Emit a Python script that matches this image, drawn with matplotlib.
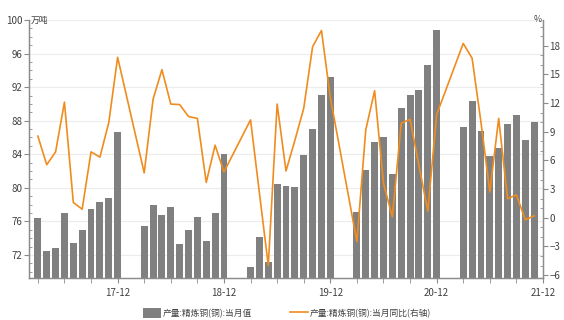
import matplotlib
matplotlib.use("Agg")
import matplotlib.pyplot as plt
from matplotlib.patches import Patch
from matplotlib.lines import Line2D
from matplotlib.ticker import MultipleLocator, FixedLocator

plt.rcParams['font.family'] = ['Noto Sans CJK SC', 'DejaVu Sans']

# 月份（每年1、2月无数据）
months = ['17-03', '17-04', '17-05', '17-06', '17-07', '17-08', '17-09', '17-10', '17-11', '17-12',
          '18-03', '18-04', '18-05', '18-06', '18-07', '18-08', '18-09', '18-10', '18-11', '18-12',
          '19-03', '19-04', '19-05', '19-06', '19-07', '19-08', '19-09', '19-10', '19-11', '19-12',
          '20-03', '20-04', '20-05', '20-06', '20-07', '20-08', '20-09', '20-10', '20-11', '20-12',
          '21-03', '21-04', '21-05', '21-06', '21-07', '21-08', '21-09', '21-10', '21-11']

# 产量:精炼铜(铜):当月值（万吨）
output = [76.4, 72.45, 72.8, 77.0, 73.4, 75.0, 77.5, 78.3, 78.75, 86.7,
          75.4, 77.9, 76.75, 77.75, 73.3, 75.0, 76.5, 73.7, 77.0, 84.0,
          70.6, 74.1, 71.2, 80.5, 80.2, 80.1, 83.9, 87.0, 91.1, 93.2,
          77.15, 82.1, 85.5, 86.1, 81.6, 89.55, 91.1, 91.6, 94.6, 98.8,
          87.2, 90.3, 86.8, 83.8, 84.7, 87.6, 88.7, 85.7, 87.85]

# 产量:精炼铜(铜):当月同比（%）
yoy = [8.55, 5.55, 6.9, 12.1, 1.6, 0.9, 6.9, 6.35, 9.95, 16.8,
       4.7, 12.4, 15.5, 11.9, 11.85, 10.6, 10.4, 3.7, 7.6, 4.8,
       10.25, 2.6, -5.0, 11.9, 4.9, 8.1, 11.45, 17.9, 19.6, 12.6,
       -2.5, 9.2, 13.3, 3.6, 0.1, 9.9, 10.3, 5.5, 0.7, 10.8,
       18.25, 16.7, 10.0, 2.7, 10.4, 2.0, 2.4, -0.2, 0.2]

all_months = [f'{y:02d}-{m:02d}' for y in range(17, 22) for m in range(1, 13)]
all_months = all_months[all_months.index('17-02'):]
x = [all_months.index(m) for m in months]

bar_color = '#808080'
line_color = '#F08C1E'
spine_color = '#8c8c8c'
text_color = '#404040'

fig = plt.figure(figsize=(5.64, 3.2), dpi=100)
ax = fig.add_axes([29 / 564, 1 - 278 / 320, (543 - 29) / 564, (278 - 20) / 320])
ax2 = ax.twinx()

ax.bar(x, output, width=0.78, color=bar_color, zorder=2)
ax2.plot(x, yoy, color=line_color, lw=1.2, zorder=3)

ax.set_xlim(0, len(all_months) - 1)
ax.set_ylim(69.25, 100)
ax2.set_ylim(-6.3, 20.7)

# x 轴刻度：每季度一个刻度，每年12月标注
minor_pos = [i for i, m in enumerate(all_months) if int(m[3:]) % 3 == 0]
major_pos = [i for i, m in enumerate(all_months) if m.endswith('-12')]
ax.xaxis.set_major_locator(FixedLocator(major_pos))
ax.set_xticklabels([all_months[i] for i in major_pos])
ax.xaxis.set_minor_locator(FixedLocator(minor_pos))
ax.tick_params(axis='x', which='both', length=3.5, direction='out', color=spine_color,
               labelsize=7, labelcolor=text_color, pad=4)

ax.yaxis.set_major_locator(MultipleLocator(4))
ax.yaxis.set_minor_locator(MultipleLocator(1))
ax.tick_params(axis='y', which='major', length=3.5, direction='out', color=spine_color,
               labelsize=7, labelcolor=text_color, pad=1)
ax.tick_params(axis='y', which='minor', length=2.5, direction='in', color=spine_color)

ax2.yaxis.set_major_locator(MultipleLocator(3))
ax2.yaxis.set_minor_locator(MultipleLocator(1))
ax2.tick_params(axis='y', which='major', length=3.5, direction='out', color=spine_color,
                labelsize=7, labelcolor=text_color, pad=1)
ax2.tick_params(axis='y', which='minor', length=2.5, direction='in', color=spine_color)

ax.grid(axis='y', which='major', color='#ececec', lw=0.8, zorder=0)
ax.set_axisbelow(True)

for a in (ax, ax2):
    a.spines['top'].set_visible(False)
    for s in ('left', 'right', 'bottom'):
        a.spines[s].set_color(spine_color)
        a.spines[s].set_linewidth(0.9)

ax.text(0.003, 1.0, '万吨', transform=ax.transAxes, fontsize=6.3, color=text_color,
        ha='left', va='center')
ax2.text(0.997, 1.0, '%', transform=ax2.transAxes, fontsize=6.3, color=text_color,
         ha='right', va='center')

handles = [Patch(facecolor=bar_color, edgecolor='none'),
           Line2D([0], [0], color=line_color, lw=1.2)]
labels = ['产量:精炼铜(铜):当月值', '产量:精炼铜(铜):当月同比(右轴)']
fig.legend(handles, labels, loc='center', bbox_to_anchor=(0.509, 0.022), ncol=2,
           frameon=False, fontsize=6.3, handlelength=2.05, handleheight=1.5,
           handletextpad=0.2, columnspacing=4.3, labelcolor=text_color)

fig.savefig('out.png', dpi=100)
